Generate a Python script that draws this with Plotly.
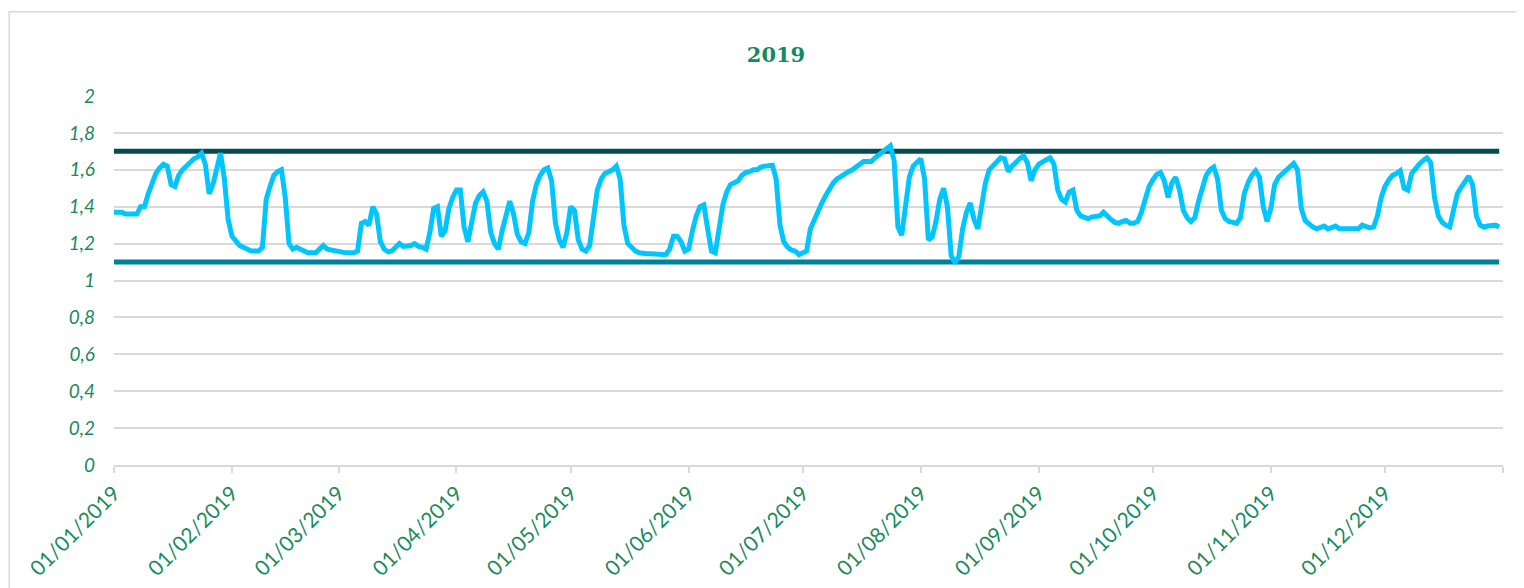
import pandas as pd
import plotly.graph_objects as go

# Daily values, 2019
values = [
    1.37, 1.37, 1.37, 1.36, 1.36, 1.36, 1.36, 1.40, 1.40, 1.47,
    1.53, 1.58, 1.61, 1.63, 1.62, 1.52, 1.51, 1.57, 1.60, 1.62,
    1.64, 1.66, 1.67, 1.69, 1.63, 1.47, 1.52, 1.62, 1.69, 1.55,
    1.33, 1.24, 1.21, 1.19, 1.18, 1.17, 1.16, 1.16, 1.16, 1.18,
    1.44, 1.51, 1.57, 1.59, 1.60, 1.45, 1.20, 1.17, 1.18, 1.17,
    1.16, 1.15, 1.15, 1.15, 1.17, 1.19, 1.17, 1.165, 1.165, 1.16,
    1.15, 1.15, 1.15, 1.15, 1.16, 1.31, 1.32, 1.30, 1.40, 1.36,
    1.21, 1.17, 1.155, 1.16, 1.18, 1.20, 1.185, 1.185, 1.19, 1.20,
    1.185, 1.18, 1.17, 1.26, 1.39, 1.40, 1.24, 1.27, 1.39, 1.45,
    1.49, 1.49, 1.29, 1.21, 1.30, 1.42, 1.46, 1.48, 1.43, 1.26,
    1.20, 1.17, 1.27, 1.36, 1.43, 1.36, 1.25, 1.21, 1.20, 1.26,
    1.43, 1.52, 1.57, 1.60, 1.61, 1.54, 1.31, 1.22, 1.18, 1.26,
    1.40, 1.38, 1.22, 1.17, 1.16, 1.19, 1.32, 1.49, 1.55, 1.58,
    1.59, 1.60, 1.62, 1.55, 1.30, 1.20, 1.18, 1.16, 1.15, 1.145,
    1.145, 1.145, 1.145, 1.145, 1.145, 1.14, 1.17, 1.24, 1.24, 1.21,
    1.16, 1.17, 1.27, 1.35, 1.40, 1.41, 1.28, 1.16, 1.15, 1.27,
    1.41, 1.48, 1.52, 1.53, 1.54, 1.57, 1.585, 1.59, 1.60, 1.60,
    1.615, 1.62, 1.625, 1.625, 1.55, 1.30, 1.21, 1.18, 1.165, 1.16,
    1.14, 1.15, 1.16, 1.28, 1.33, 1.38, 1.42, 1.46, 1.50, 1.53,
    1.55, 1.565, 1.58, 1.59, 1.60, 1.615, 1.635, 1.645, 1.645, 1.645,
    1.665, 1.68, 1.695, 1.715, 1.73, 1.65, 1.29, 1.245, 1.43, 1.56,
    1.62, 1.645, 1.66, 1.55, 1.22, 1.235, 1.32, 1.44, 1.50, 1.40,
    1.135, 1.095, 1.13, 1.28, 1.37, 1.42, 1.33, 1.28, 1.41, 1.53,
    1.60, 1.625, 1.645, 1.665, 1.66, 1.59, 1.62, 1.645, 1.66, 1.675,
    1.64, 1.54, 1.60, 1.63, 1.645, 1.655, 1.665, 1.63, 1.49, 1.44,
    1.425, 1.48, 1.49, 1.38, 1.35, 1.345, 1.335, 1.345, 1.345, 1.35,
    1.37, 1.345, 1.33, 1.315, 1.31, 1.32, 1.325, 1.31, 1.31, 1.32,
    1.37, 1.44, 1.51, 1.545, 1.575, 1.585, 1.54, 1.45, 1.53, 1.56,
    1.49, 1.38, 1.34, 1.32, 1.34, 1.43, 1.51, 1.57, 1.60, 1.615,
    1.55, 1.38, 1.335, 1.32, 1.315, 1.31, 1.34, 1.47, 1.53, 1.57,
    1.595, 1.56, 1.40, 1.32, 1.39, 1.52, 1.56, 1.58, 1.60, 1.62,
    1.635, 1.60, 1.39, 1.325, 1.305, 1.29, 1.28, 1.29, 1.295, 1.28,
    1.285, 1.295, 1.28, 1.28, 1.28, 1.28, 1.28, 1.28, 1.30, 1.29,
    1.285, 1.29, 1.35, 1.45, 1.51, 1.545, 1.57, 1.58, 1.595, 1.50,
    1.49, 1.58, 1.61, 1.63, 1.65, 1.665, 1.64, 1.45, 1.35, 1.315,
    1.30, 1.29, 1.38, 1.47, 1.505, 1.54, 1.565, 1.52, 1.35, 1.30,
    1.29, 1.295, 1.30, 1.30, 1.29,
]
upper_limit = 1.7
lower_limit = 1.1

dates = pd.date_range("2019-01-01", periods=len(values), freq="D")
upper = [upper_limit] * len(values)
lower = [lower_limit] * len(values)

y_ticks = [0, 0.2, 0.4, 0.6, 0.8, 1, 1.2, 1.4, 1.6, 1.8, 2]
y_text = ["0", "0,2", "0,4", "0,6", "0,8", "1", "1,2", "1,4", "1,6", "1,8", "2"]
x_ticks = list(pd.date_range("2019-01-01", periods=13, freq="MS"))
x_text = [d.strftime("%d/%m/%Y") for d in x_ticks[:-1]] + [""]

green = "#1a8a5c"

fig = go.Figure()
fig.add_trace(go.Scatter(x=dates, y=upper, mode="lines",
                         line=dict(color="#034d52", width=5), hoverinfo="skip"))
fig.add_trace(go.Scatter(x=dates, y=lower, mode="lines",
                         line=dict(color="#00809a", width=5), hoverinfo="skip"))
fig.add_trace(go.Scatter(x=dates, y=values, mode="lines",
                         line=dict(color="#00c5ff", width=5)))

fig.update_layout(
    width=1516, height=580,
    margin=dict(l=106, r=21, t=88, b=123),
    paper_bgcolor="white", plot_bgcolor="white",
    showlegend=False,
    title=dict(text="<b>2019</b>", x=0.5066, xref="container", y=0.92,
               xanchor="center", yanchor="middle",
               font=dict(family="DejaVu Serif", size=21, color="#108a5e")),
    font=dict(family="Lato", color=green),
)
fig.update_xaxes(
    range=[pd.Timestamp("2019-01-01"), pd.Timestamp("2020-01-01")],
    tickvals=x_ticks, ticktext=x_text, tickangle=-45,
    tickfont=dict(family="Lato", size=21, color=green),
    showgrid=False, showline=True, linecolor="#d9d9d9", linewidth=1.5,
    ticks="outside", ticklen=6, tickcolor="#d9d9d9", tickwidth=1.5,
    zeroline=False, automargin=False,
)
fig.update_yaxes(
    range=[0, 2], tickvals=y_ticks, ticktext=y_text,
    tickfont=dict(family="Lato", size=19, color=green, style="italic"),
    showgrid=True, gridcolor="#d9d9d9", gridwidth=1.5,
    zeroline=False, showline=False, ticks="", ticklabelstandoff=18,
    automargin=False,
)
fig.add_shape(type="rect", xref="paper", yref="paper",
              x0=-0.0755, x1=1.0100, y0=-0.40, y1=1.228,
              line=dict(color="#d9d9d9", width=1.5), layer="below")

fig.write_html("out.html")
